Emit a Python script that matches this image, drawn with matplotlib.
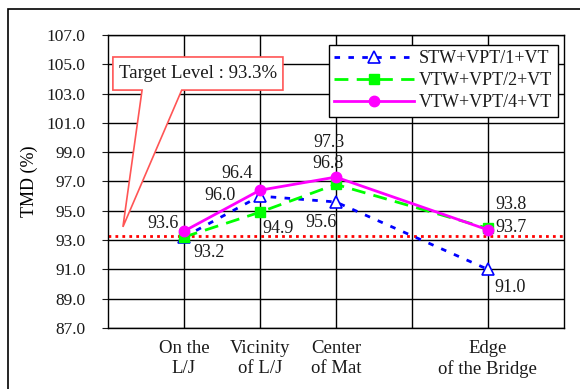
import matplotlib

matplotlib.use("Agg")
import matplotlib.pyplot as plt
from matplotlib.patches import Polygon, Rectangle

plt.rcParams.update({
    "font.family": ["Liberation Serif", "DejaVu Serif"],
    "font.size": 12,
    "text.color": "#1a1a1a",
    "xtick.color": "#1a1a1a",
    "ytick.color": "#1a1a1a",
})

# data
posicoes = [1, 2, 3, 5]
categorias = ["On the\nL/J", "Vicinity\nof L/J", "Center\nof Mat", "Edge\nof the Bridge"]
stw_1 = [93.2, 96.0, 95.6, 91.0]
vtw_2 = [93.2, 94.9, 96.8, 93.8]
vtw_4 = [93.6, 96.4, 97.3, 93.7]
alvo = 93.3

# label offsets in pixels (dx, dy) for each series / point
PX = 0.72
desl_stw = [None, (-40, 1), (-15, -21), (22, -18)]
desl_v2 = [(25, -15), (18, -16), (-8, 21), (23, 24)]
desl_v4 = [(-21, 8), (-23, 17), (-7, 35), (23, 2)]

fig = plt.figure(figsize=(5.8, 3.89), dpi=100)
ax = fig.add_axes([0.186, 0.157, 0.786, 0.753])

fig.patches.append(Rectangle((0.0138, -0.1), 1.2, 0.977 + 0.1,
                             transform=fig.transFigure, fill=False,
                             edgecolor="black", linewidth=1.2))

ax.plot(posicoes, stw_1, color="#0000ff", linestyle=(0, (2, 3)), linewidth=2,
        marker="^", markersize=8.5, markerfacecolor="white",
        markeredgecolor="#0000ff", markeredgewidth=1.2,
        label="STW+VPT/1+VT", zorder=3)
ax.plot(posicoes, vtw_2, color="#00ff00", linestyle=(0, (5, 3)), linewidth=2,
        marker="s", markersize=7.5, markerfacecolor="#00ff00",
        markeredgecolor="#00ff00", label="VTW+VPT/2+VT", zorder=4)
ax.plot(posicoes, vtw_4, color="#ff00ff", linestyle="-", linewidth=2,
        marker="o", markersize=7.5, markerfacecolor="#ff00ff",
        markeredgecolor="#ff00ff", label="VTW+VPT/4+VT", zorder=5)

ax.axhline(alvo, color="red", linestyle=(0, (1, 1.5)), linewidth=2, zorder=2)

for valores, desl in [(stw_1, desl_stw), (vtw_2, desl_v2), (vtw_4, desl_v4)]:
    for x, v, d in zip(posicoes, valores, desl):
        if d is None:
            continue
        ax.annotate(f"{v:.1f}", xy=(x, v), xytext=(d[0] * PX, d[1] * PX),
                    textcoords="offset points", ha="center", va="center",
                    fontsize=13, zorder=6)

# callout box for target level
caixa = [(0.011, 0.925), (0.384, 0.925), (0.384, 0.812), (0.162, 0.812),
         (0.033, 0.345), (0.075, 0.812), (0.011, 0.812)]
ax.add_patch(Polygon(caixa, closed=True, transform=ax.transAxes,
                     facecolor="white", edgecolor="#ff5555", linewidth=1.2,
                     zorder=7))
ax.text(0.198, 0.868, f"Target Level : {alvo}%", transform=ax.transAxes,
        ha="center", va="center", fontsize=13.5, zorder=8)

ax.set_xlim(0, 6)
ax.set_ylim(87, 107)
ax.set_yticks(range(87, 108, 2))
ax.set_yticklabels([f"{t:.1f}" for t in range(87, 108, 2)])
ax.set_xticks(posicoes)
ax.set_xticklabels(categorias)
ax.set_xticks([4], minor=True)
ax.tick_params(axis="x", which="both", length=0, pad=9, labelsize=13.5)
ax.tick_params(axis="y", length=4, pad=12, labelsize=12.5)
ax.grid(True, which="both", axis="x", color="black", linewidth=1)
ax.grid(True, which="major", axis="y", color="black", linewidth=1)
ax.set_axisbelow(True)
for s in ax.spines.values():
    s.set_linewidth(1)
ax.set_ylabel("TMD (%)", fontsize=13, labelpad=6)

leg = ax.legend(loc="upper right", bbox_to_anchor=(0.987, 0.966),
                fontsize=13, handlelength=4.4, fancybox=False,
                framealpha=1, edgecolor="black", borderaxespad=0,
                labelspacing=0.28, handletextpad=0.3, borderpad=0.3)
leg.get_frame().set_linewidth(1)
leg.set_zorder(9)

fig.savefig("out.png", dpi=100)
